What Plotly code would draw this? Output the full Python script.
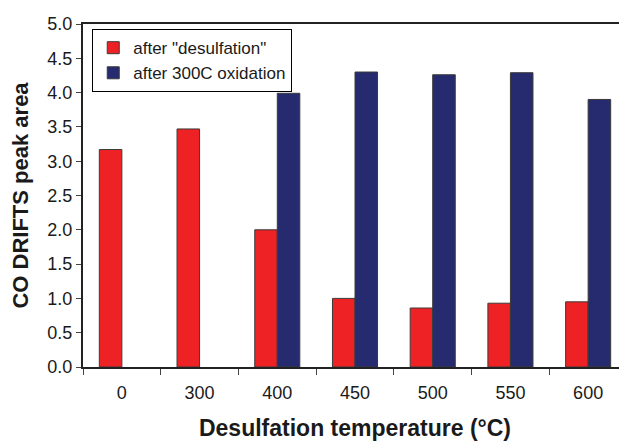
import plotly.graph_objects as go

temps = ['0', '300', '400', '450', '500', '550', '600']
after_desulf = [3.17, 3.47, 2.00, 1.00, 0.86, 0.93, 0.95]
after_oxid = [None, None, 3.99, 4.30, 4.26, 4.29, 3.90]

FONT = 'Arial, Liberation Sans, sans-serif'

fig = go.Figure()
fig.add_trace(go.Bar(x=temps, y=after_desulf, name='after "desulfation"',
                     marker=dict(color='#EE2224', line=dict(color='#3a3a3a', width=1))))
fig.add_trace(go.Bar(x=temps, y=after_oxid, name='after 300C oxidation',
                     marker=dict(color='#262A6E', line=dict(color='#3a3a3a', width=1))))

# page body has an 8px default margin, so the figure is shrunk by that much
fig.update_layout(
    width=619, height=433,
    margin=dict(l=75, r=0, t=16, b=74),
    paper_bgcolor='white', plot_bgcolor='white',
    barmode='group', bargap=0.42, bargroupgap=0,
    font=dict(family=FONT, size=18, color='#1a1a1a'),
    showlegend=True,
    legend=dict(x=0.017, y=0.985, xanchor='left', yanchor='top',
                bgcolor='white', bordercolor='black', borderwidth=1,
                font=dict(size=17), tracegroupgap=0, itemwidth=30),
    xaxis=dict(
        title=dict(text='<b>Desulfation temperature (°C)</b>', font=dict(size=23), standoff=21),
        showline=True, linecolor='#222222', linewidth=2, mirror=True,
        ticks='outside', tickson='boundaries', ticklen=6, tickcolor='#444444',
        ticklabelstandoff=8,
        showgrid=False, range=[-0.5, 6.5],
    ),
    yaxis=dict(
        title=dict(text='<b>CO DRIFTS peak area</b>', font=dict(size=22), standoff=18),
        range=[0, 5], dtick=0.5, tickformat='.1f',
        showline=True, linecolor='#222222', linewidth=2,
        ticks='outside', ticklen=5, tickcolor='#444444',
        showgrid=False, zeroline=False,
    ),
)

fig.write_html('out.html')
